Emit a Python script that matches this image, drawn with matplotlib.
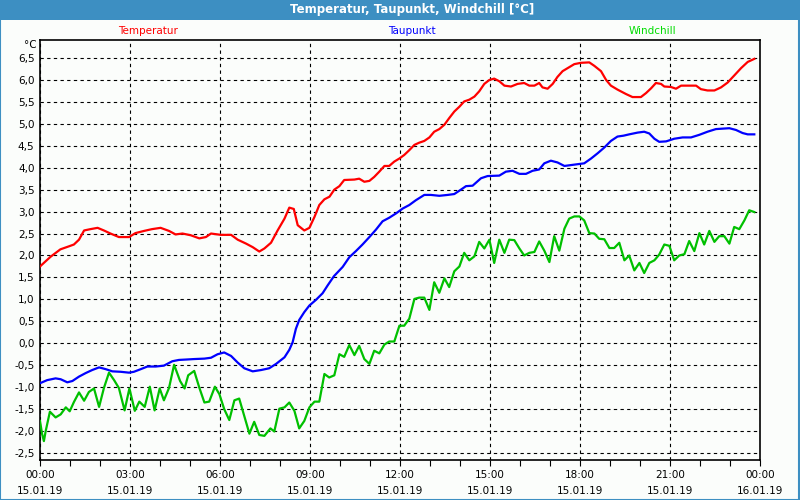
import matplotlib.pyplot as plt
from matplotlib.patches import Rectangle
from matplotlib.ticker import MultipleLocator

# Stunden seit 15.01.19 00:00
temp_h = [0.0, 0.35, 0.68, 0.97, 1.13, 1.3, 1.47, 1.68, 1.92, 2.13, 2.35, 2.63, 2.97,
          3.18, 3.47, 3.73, 4.02, 4.3, 4.52, 4.75, 5.03, 5.31, 5.53, 5.7, 6.03, 6.37,
          6.59, 6.87, 7.09, 7.31, 7.48, 7.7, 7.92, 8.15, 8.31, 8.46, 8.59, 8.81, 8.98,
          9.15, 9.31, 9.48, 9.65, 9.81, 9.98, 10.14, 10.48, 10.64, 10.81, 10.98, 11.14,
          11.31, 11.48, 11.64, 11.81, 11.98, 12.14, 12.31, 12.48, 12.64, 12.81, 12.98,
          13.14, 13.31, 13.48, 13.64, 13.81, 13.98, 14.14, 14.31, 14.48, 14.64, 14.81,
          14.98, 15.14, 15.31, 15.48, 15.7, 15.92, 16.14, 16.31, 16.48, 16.64, 16.75,
          16.92, 17.09, 17.25, 17.42, 17.59, 17.81, 18.03, 18.31, 18.48, 18.7, 18.87,
          19.03, 19.25, 19.53, 19.75, 20.03, 20.2, 20.37, 20.53, 20.7, 20.81, 21.03,
          21.2, 21.37, 21.64, 21.87, 22.03, 22.25, 22.48, 22.7, 22.92, 23.14, 23.37,
          23.59, 23.81]
temp = [1.75, 1.97, 2.14, 2.21, 2.25, 2.36, 2.57, 2.6, 2.63, 2.57, 2.5, 2.42, 2.42,
        2.51, 2.56, 2.6, 2.63, 2.56, 2.48, 2.5, 2.46, 2.39, 2.42, 2.5, 2.47, 2.47,
        2.36, 2.27, 2.19, 2.09, 2.16, 2.29, 2.57, 2.84, 3.09, 3.06, 2.69, 2.57, 2.63,
        2.88, 3.15, 3.28, 3.34, 3.5, 3.58, 3.72, 3.73, 3.75, 3.68, 3.7, 3.79,
        3.91, 4.04, 4.04, 4.14, 4.21, 4.29, 4.4, 4.52, 4.57, 4.61, 4.69,
        4.82, 4.88, 4.98, 5.13, 5.28, 5.39, 5.51, 5.55, 5.62, 5.74, 5.91,
        6.0, 6.03, 5.97, 5.87, 5.85, 5.91, 5.93, 5.87, 5.87, 5.93, 5.83,
        5.8, 5.91, 6.07, 6.2, 6.27, 6.36, 6.39, 6.4, 6.32, 6.2, 6.0,
        5.87, 5.78, 5.68, 5.61, 5.61, 5.7, 5.81, 5.93, 5.91, 5.85, 5.84,
        5.8, 5.87, 5.87, 5.87, 5.79, 5.76, 5.76, 5.83, 5.94, 6.1, 6.27,
        6.41, 6.48]

dew_h = [0.0, 0.24, 0.52, 0.69, 0.91, 1.08, 1.3, 1.52, 1.74, 1.97, 2.19, 2.41, 2.69,
         2.97, 3.13, 3.36, 3.58, 3.86, 4.13, 4.41, 4.63, 4.89, 5.14, 5.48, 5.7, 5.92,
         6.14, 6.37, 6.59, 6.81, 7.09, 7.37, 7.64, 7.87, 8.15, 8.31, 8.42, 8.53, 8.64,
         8.81, 8.98, 9.2, 9.42, 9.59, 9.8, 10.09, 10.31, 10.53, 10.75, 10.98, 11.2,
         11.42, 11.64, 11.87, 12.09, 12.31, 12.53, 12.81, 13.03, 13.31, 13.59, 13.81,
         14.03, 14.2, 14.42, 14.7, 14.92, 15.31, 15.53, 15.75, 15.98, 16.2, 16.42,
         16.64, 16.81, 17.03, 17.25, 17.48, 17.7, 17.92, 18.14, 18.37, 18.59, 18.81,
         19.03, 19.25, 19.45, 19.64, 19.92, 20.14, 20.31, 20.48, 20.64, 20.87, 21.14,
         21.42, 21.7, 21.98, 22.25, 22.53, 22.75, 22.98, 23.2, 23.42, 23.59, 23.81]
dew = [-0.91, -0.84, -0.8, -0.82, -0.89, -0.86, -0.76, -0.68, -0.61, -0.55, -0.59, -0.64, -0.65,
       -0.67, -0.65, -0.59, -0.53, -0.53, -0.51, -0.41, -0.38, -0.37, -0.36, -0.35, -0.33, -0.25,
       -0.21, -0.29, -0.44, -0.57, -0.64, -0.61, -0.57, -0.47, -0.32, -0.15, 0.02, 0.33, 0.53,
       0.71, 0.86, 0.99, 1.14, 1.32, 1.53, 1.74, 1.96, 2.1, 2.25, 2.42, 2.59,
       2.78, 2.86, 2.96, 3.07, 3.15, 3.26, 3.38, 3.38, 3.36, 3.38, 3.4,
       3.5, 3.58, 3.59, 3.76, 3.81, 3.82, 3.91, 3.93, 3.86, 3.86, 3.93,
       3.96, 4.1, 4.16, 4.12, 4.04, 4.06, 4.08, 4.1, 4.21, 4.33, 4.46,
       4.61, 4.71, 4.73, 4.76, 4.8, 4.82, 4.78, 4.66, 4.59, 4.6, 4.66,
       4.69, 4.69, 4.75, 4.82, 4.88, 4.89, 4.9, 4.86, 4.79, 4.76, 4.76]

wind_h = [0.0, 0.07, 0.13, 0.19, 0.33, 0.52, 0.69, 0.86, 0.99, 1.13, 1.3, 1.47, 1.63,
          1.8, 1.97, 2.13, 2.3, 2.47, 2.63, 2.82, 2.98, 3.16, 3.31, 3.49, 3.66, 3.82,
          3.99, 4.13, 4.3, 4.47, 4.67, 4.82, 4.94, 5.14, 5.31, 5.48, 5.64, 5.83, 5.98,
          6.14, 6.31, 6.48, 6.64, 6.81, 6.98, 7.14, 7.31, 7.48, 7.68, 7.81, 7.98, 8.15,
          8.31, 8.48, 8.64, 8.81, 8.98, 9.15, 9.31, 9.48, 9.64, 9.81, 9.98, 10.14, 10.31,
          10.48, 10.64, 10.81, 10.98, 11.14, 11.31, 11.48, 11.64, 11.81, 11.98, 12.14,
          12.31, 12.48, 12.64, 12.81, 12.98, 13.14, 13.31, 13.48, 13.64, 13.81, 13.98,
          14.14, 14.31, 14.48, 14.64, 14.81, 14.98, 15.14, 15.31, 15.48, 15.64, 15.81,
          15.98, 16.14, 16.31, 16.48, 16.64, 16.81, 16.98, 17.14, 17.31, 17.48, 17.64,
          17.81, 17.98, 18.14, 18.31, 18.48, 18.64, 18.81, 18.98, 19.14, 19.31, 19.48,
          19.64, 19.81, 19.98, 20.14, 20.31, 20.48, 20.64, 20.81, 20.98, 21.14, 21.31,
          21.48, 21.64, 21.81, 21.98, 22.14, 22.31, 22.48, 22.64, 22.81, 22.98, 23.14,
          23.31, 23.48, 23.64, 23.81]
wind = [-1.77, -2.07, -2.23, -2.0, -1.56, -1.69, -1.62, -1.46, -1.55, -1.34, -1.12, -1.31, -1.11,
        -1.03, -1.45, -1.02, -0.67, -0.84, -1.02, -1.53, -1.03, -1.54, -1.33, -1.45, -0.99, -1.53,
        -1.03, -1.3, -1.02, -0.49, -0.86, -1.03, -0.73, -0.63, -1.01, -1.35, -1.33, -0.99, -1.16,
        -1.5, -1.75, -1.3, -1.26, -1.66, -2.06, -1.79, -2.09, -2.11, -1.94, -2.01, -1.49, -1.46,
        -1.35, -1.54, -1.94, -1.77, -1.46, -1.33, -1.33, -0.7, -0.78, -0.73, -0.25, -0.31, -0.04,
        -0.27, -0.06, -0.36, -0.47, -0.17, -0.23, -0.03, 0.04, 0.04, 0.4, 0.4,
        0.56, 1.01, 1.04, 1.04, 0.76, 1.39, 1.15, 1.48, 1.28, 1.64, 1.75,
        2.06, 1.89, 1.98, 2.31, 2.16, 2.36, 1.83, 2.36, 2.06, 2.36, 2.35,
        2.16, 2.0, 2.06, 2.08, 2.32, 2.11, 1.85, 2.44, 2.11, 2.61, 2.84,
        2.89, 2.89, 2.8, 2.51, 2.5, 2.38, 2.37, 2.17, 2.17, 2.29, 1.89,
        2.0, 1.66, 1.83, 1.6, 1.83, 1.89, 2.02, 2.25, 2.22, 1.89, 2.0,
        2.03, 2.33, 2.1, 2.51, 2.25, 2.56, 2.31, 2.44, 2.44, 2.27, 2.65,
        2.6, 2.8, 3.03, 2.99]

x_ticks = [0, 3, 6, 9, 12, 15, 18, 21, 24]
x_labels = ["00:00\n15.01.19", "03:00\n15.01.19", "06:00\n15.01.19", "09:00\n15.01.19",
            "12:00\n15.01.19", "15:00\n15.01.19", "18:00\n15.01.19", "21:00\n15.01.19",
            "00:00\n16.01.19"]
y_ticks = [-2.5, -2.0, -1.5, -1.0, -0.5, 0.0, 0.5, 1.0, 1.5, 2.0, 2.5, 3.0, 3.5, 4.0,
           4.5, 5.0, 5.5, 6.0, 6.5]

bar_blue = "#3d8fc2"
bg = "#fbfdfb"

fig = plt.figure(figsize=(8, 5), dpi=100, facecolor=bg)

# Fensterrahmen und Titelleiste
fig.patches.append(Rectangle((0, 0.96), 1, 0.04, transform=fig.transFigure,
                             facecolor=bar_blue, edgecolor="none", zorder=0))
fig.patches.append(Rectangle((0.0005, 0.001), 0.9985, 0.998, transform=fig.transFigure,
                             facecolor="none", edgecolor=bar_blue, lw=1.5, zorder=0))
fig.text(0.515, 0.98, "Temperatur, Taupunkt, Windchill [°C]", color="white",
         fontsize=8.5, fontweight="bold", ha="center", va="center")

ax = fig.add_axes([0.05, 0.08, 0.90, 0.84])
ax.set_facecolor(bg)

ax.plot(temp_h, temp, color="#ff0000", lw=1.6, zorder=3)
ax.plot(dew_h, dew, color="#0000ff", lw=1.6, zorder=3)
ax.plot(wind_h, wind, color="#00c000", lw=1.6, zorder=3)

ax.set_xlim(0, 24)
ax.set_ylim(-2.66, 6.91)
ax.set_xticks(x_ticks)
ax.set_xticklabels(x_labels, fontsize=7.5, linespacing=1.75)
ax.xaxis.set_minor_locator(MultipleLocator(1))
ax.set_yticks(y_ticks)
ax.set_yticklabels([f"{v:.1f}".replace(".", ",") for v in y_ticks], fontsize=7.5)

ax.tick_params(axis="x", which="both", direction="out", length=4, width=0.8, pad=3.5)
ax.tick_params(axis="y", length=0, pad=4)
ax.grid(True, color="black", linestyle=(0, (3, 3)), linewidth=0.8)
ax.set_axisbelow(True)
for s in ax.spines.values():
    s.set_color("black")
    s.set_linewidth(1.2)

# Legende als farbige Texte ueber dem Diagramm
fig.text(0.185, 0.937, "Temperatur", color="#ff0000", fontsize=7.5, ha="center", va="center")
fig.text(0.515, 0.937, "Taupunkt", color="#0000ff", fontsize=7.5, ha="center", va="center")
fig.text(0.815, 0.937, "Windchill", color="#00dd00", fontsize=7.5, ha="center", va="center")
fig.text(0.038, 0.91, "°C", color="black", fontsize=7.5, ha="center", va="center")

fig.savefig("out.png", dpi=100, facecolor=bg)
